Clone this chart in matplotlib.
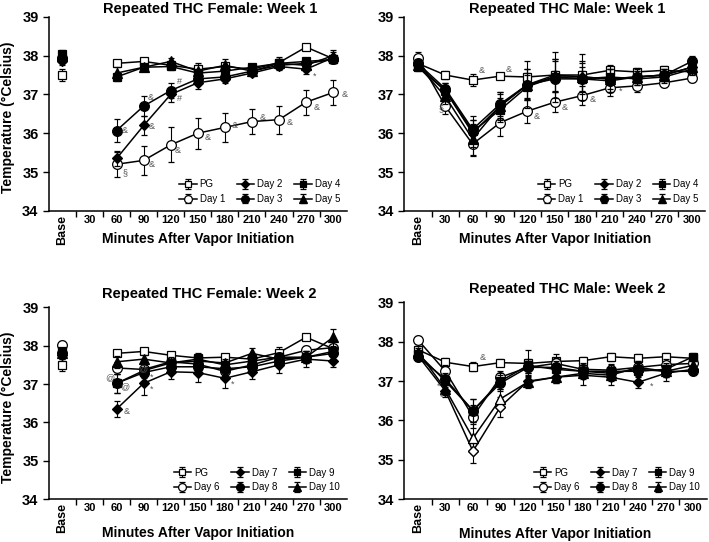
import numpy as np
import matplotlib
matplotlib.use('Agg')
import matplotlib.pyplot as plt

plt.rcParams['font.family'] = ['Liberation Sans', 'DejaVu Sans']

nan = np.nan

# x categories (Base + minutes)
x_labels = ['Base', '30', '60', '90', '120', '150', '180', '210', '240', '270', '300']

week1_names = ['PG', 'Day 1', 'Day 2', 'Day 3', 'Day 4', 'Day 5']
week2_names = ['PG', 'Day 6', 'Day 7', 'Day 8', 'Day 9', 'Day 10']

# female week 1 (no 30 min sample)
fw1_mean = [
    [37.50, nan, 37.80, 37.85, 37.75, 37.65, 37.72, 37.65, 37.82, 38.22, 37.92],
    [37.93, nan, 35.20, 35.30, 35.70, 36.00, 36.15, 36.30, 36.35, 36.80, 37.05],
    [37.85, nan, 35.35, 36.20, 37.00, 37.30, 37.40, 37.55, 37.72, 37.65, 37.95],
    [37.90, nan, 36.07, 36.70, 37.10, 37.40, 37.45, 37.60, 37.75, 37.80, 37.90],
    [38.05, nan, 37.45, 37.70, 37.72, 37.55, 37.60, 37.70, 37.80, 37.85, 37.90],
    [38.00, nan, 37.55, 37.70, 37.85, 37.60, 37.75, 37.60, 37.80, 37.75, 38.00],
]
fw1_err = [
    [0.15, nan, 0.05, 0.05, 0.05, 0.10, 0.08, 0.05, 0.15, 0.05, 0.10],
    [0.10, nan, 0.32, 0.37, 0.45, 0.40, 0.38, 0.32, 0.36, 0.32, 0.33],
    [0.10, nan, 0.20, 0.25, 0.20, 0.15, 0.10, 0.08, 0.08, 0.12, 0.15],
    [0.10, nan, 0.30, 0.25, 0.20, 0.15, 0.10, 0.08, 0.08, 0.10, 0.10],
    [0.10, nan, 0.10, 0.08, 0.08, 0.10, 0.08, 0.05, 0.05, 0.10, 0.10],
    [0.10, nan, 0.15, 0.08, 0.08, 0.20, 0.15, 0.08, 0.10, 0.15, 0.15],
]

# male week 1
mw1_mean = [
    [37.80, 37.50, 37.37, 37.47, 37.45, 37.50, 37.50, 37.62, 37.58, 37.62, 37.58],
    [37.95, 36.70, 35.72, 36.27, 36.57, 36.80, 36.97, 37.17, 37.22, 37.30, 37.42],
    [37.75, 37.10, 36.00, 36.70, 37.25, 37.45, 37.45, 37.40, 37.45, 37.50, 37.70],
    [37.80, 37.15, 36.10, 36.75, 37.25, 37.40, 37.40, 37.35, 37.45, 37.50, 37.85],
    [37.70, 37.10, 36.05, 36.60, 37.20, 37.45, 37.40, 37.45, 37.40, 37.45, 37.65],
    [37.75, 36.95, 35.85, 36.70, 37.25, 37.50, 37.45, 37.40, 37.45, 37.50, 37.70],
]
mw1_err = [
    [0.15, 0.10, 0.15, 0.08, 0.10, 0.10, 0.10, 0.10, 0.10, 0.10, 0.10],
    [0.15, 0.20, 0.30, 0.35, 0.30, 0.25, 0.25, 0.20, 0.15, 0.10, 0.10],
    [0.10, 0.20, 0.35, 0.30, 0.60, 0.65, 0.60, 0.35, 0.20, 0.15, 0.15],
    [0.10, 0.15, 0.35, 0.30, 0.40, 0.50, 0.40, 0.30, 0.15, 0.15, 0.15],
    [0.10, 0.15, 0.30, 0.30, 0.30, 0.40, 0.30, 0.20, 0.15, 0.15, 0.15],
    [0.10, 0.20, 0.40, 0.35, 0.40, 0.40, 0.40, 0.25, 0.15, 0.15, 0.15],
]

# female week 2
fw2_mean = [
    [37.50, nan, 37.80, 37.85, 37.75, 37.68, 37.70, 37.65, 37.82, 38.22, 37.92],
    [38.02, nan, 37.42, 37.38, 37.58, 37.52, 37.33, 37.50, 37.70, 37.88, 37.95],
    [37.75, nan, 36.35, 37.02, 37.32, 37.30, 37.15, 37.32, 37.50, 37.65, 37.60],
    [37.80, nan, 37.02, 37.30, 37.45, 37.45, 37.40, 37.45, 37.60, 37.70, 37.80],
    [37.85, nan, 37.02, 37.35, 37.55, 37.65, 37.50, 37.60, 37.70, 37.70, 37.85],
    [37.80, nan, 37.58, 37.65, 37.55, 37.60, 37.55, 37.80, 37.65, 37.70, 38.22],
]
fw2_err = [
    [0.15, nan, 0.05, 0.05, 0.05, 0.08, 0.05, 0.05, 0.15, 0.05, 0.10],
    [0.10, nan, 0.15, 0.12, 0.10, 0.10, 0.15, 0.10, 0.10, 0.12, 0.10],
    [0.10, nan, 0.20, 0.30, 0.20, 0.25, 0.25, 0.20, 0.20, 0.20, 0.15],
    [0.10, nan, 0.25, 0.15, 0.15, 0.15, 0.15, 0.15, 0.15, 0.15, 0.10],
    [0.10, nan, 0.25, 0.15, 0.10, 0.15, 0.10, 0.10, 0.10, 0.10, 0.10],
    [0.10, nan, 0.15, 0.10, 0.15, 0.15, 0.10, 0.15, 0.10, 0.15, 0.22],
]

# male week 2
mw2_mean = [
    [37.80, 37.48, 37.37, 37.47, 37.45, 37.50, 37.52, 37.62, 37.58, 37.62, 37.58],
    [38.05, 37.25, 36.10, 37.10, 37.35, 37.45, 37.30, 37.28, 37.35, 37.42, 37.45],
    [37.65, 36.75, 35.22, 36.35, 37.00, 37.10, 37.15, 37.10, 36.97, 37.20, 37.30],
    [37.62, 37.05, 36.25, 36.95, 37.35, 37.35, 37.25, 37.20, 37.30, 37.25, 37.25],
    [37.70, 37.00, 36.25, 37.00, 37.40, 37.30, 37.25, 37.25, 37.25, 37.30, 37.62],
    [37.75, 36.80, 35.55, 36.55, 36.98, 37.10, 37.20, 37.15, 37.35, 37.25, 37.40],
]
mw2_err = [
    [0.10, 0.10, 0.12, 0.08, 0.35, 0.20, 0.10, 0.10, 0.10, 0.10, 0.10],
    [0.10, 0.15, 0.30, 0.15, 0.15, 0.15, 0.15, 0.15, 0.15, 0.15, 0.10],
    [0.10, 0.15, 0.30, 0.25, 0.15, 0.15, 0.25, 0.20, 0.15, 0.20, 0.10],
    [0.10, 0.15, 0.30, 0.20, 0.15, 0.15, 0.15, 0.15, 0.15, 0.15, 0.10],
    [0.10, 0.15, 0.30, 0.20, 0.15, 0.15, 0.15, 0.15, 0.15, 0.15, 0.10],
    [0.10, 0.15, 0.35, 0.25, 0.15, 0.15, 0.15, 0.15, 0.15, 0.15, 0.10],
]
# points drawn hollow (series index, x index)
mw2_hollow = [(2, 2), (2, 3), (5, 2), (5, 3)]

# significance notes: (x position, y value, symbol)
fw1_notes = [(2.3, 34.97, '§'), (3.3, 35.2, '&'), (4.27, 35.55, '&'), (5.35, 35.9, '&'),
             (6.36, 36.19, '&'), (7.4, 36.41, '&'), (8.4, 36.28, '&'), (9.4, 36.67, '&'),
             (10.44, 36.99, '&'), (2.3, 36.07, '&'), (3.3, 36.17, '&'), (3.27, 36.93, '&'),
             (4.34, 37.34, '#'), (4.34, 36.9, '#'), (9.3, 37.47, '*')]
mw1_notes = [(2.33, 37.61, '&'), (3.33, 37.64, '&'), (0.85, 36.62, '§'), (4.33, 36.43, '&'),
             (5.37, 36.67, '&'), (6.4, 36.86, '&'), (7.4, 37.09, '*')]
fw2_notes = [(2.38, 36.28, '&'), (3.3, 36.86, '*'), (3.3, 37.18, '*'), (6.27, 36.99, '*'),
             (1.76, 37.17, '@'), (2.29, 36.93, '@'), (2.97, 37.39, '@')]
mw2_notes = [(2.37, 37.59, '&'), (0.76, 36.86, '*'), (0.85, 36.6, '*'), (8.5, 36.86, '*')]

styles = [('s', 'white', 6), ('o', 'white', 7), ('D', 'black', 5),
          ('o', 'black', 7), ('s', 'black', 6), ('^', 'black', 6.5)]

fig = plt.figure(figsize=(7.09, 5.42), dpi=100)

panels = [
    ([0.069, 0.611, 0.420, 0.358], 'Repeated THC Female: Week 1', fw1_mean, fw1_err, week1_names, fw1_notes, [], True, 0),
    ([0.570, 0.611, 0.425, 0.358], 'Repeated THC Male: Week 1', mw1_mean, mw1_err, week1_names, mw1_notes, [], False, 0),
    ([0.069, 0.079, 0.420, 0.354], 'Repeated THC Female: Week 2', fw2_mean, fw2_err, week2_names, fw2_notes, [], True, 1),
    ([0.570, 0.079, 0.427, 0.363], 'Repeated THC Male: Week 2', mw2_mean, mw2_err, week2_names, mw2_notes, mw2_hollow, False, 1),
]

x = np.arange(len(x_labels))

for rect, title, means, errs, names, notes, hollow, is_left, row in panels:
    ax = fig.add_axes(rect)
    for i in range(len(means)):
        m, fc, ms = styles[i]
        y = np.array(means[i])
        e = np.array(errs[i])
        ax.errorbar(x, y, yerr=e, color='black', lw=1.1, elinewidth=0.8, capsize=2,
                    capthick=0.8, marker=m, mfc=fc, mec='black', mew=0.9, ms=ms,
                    label=names[i], zorder=3 + i * 0.1)
    for si, xi in hollow:
        m, fc, ms = styles[si]
        ax.plot(x[xi], means[si][xi], marker=m, mfc='white', mec='black', mew=0.9,
                ms=ms, ls='none', zorder=5)
    for xn, yn, sym in notes:
        ax.text(xn, yn, sym, fontsize=6.5, color='#555555', ha='center', va='center', zorder=6)

    ax.set_xlim(-0.5, 10.5)
    ax.set_ylim(34, 39)
    ax.set_yticks([34, 35, 36, 37, 38, 39])
    ax.set_xticks(x)
    ax.set_xticklabels(x_labels, fontsize=8, fontweight='bold')
    base_lbl = ax.get_xticklabels()[0]
    base_lbl.set_rotation(90)
    base_lbl.set_fontsize(9)
    ax.set_xticks(x[:-1] + 0.5, minor=True)
    ax.tick_params(axis='x', which='major', length=0, pad=3)
    ax.tick_params(axis='x', which='minor', length=4, width=1, direction='out')
    ax.tick_params(axis='y', length=4, width=1, labelsize=10.5, direction='out')
    for lb in ax.get_yticklabels():
        lb.set_fontweight('bold')
    ax.spines['top'].set_visible(False)
    ax.spines['right'].set_visible(False)
    ax.spines['left'].set_linewidth(1.1)
    ax.spines['bottom'].set_linewidth(1.1)

    ax.set_title(title, fontsize=10.5, fontweight='bold', x=0.54, pad=3 if row == 0 else 7)
    ax.set_xlabel('Minutes After Vapor Initiation', fontsize=10, fontweight='bold')
    ax.xaxis.set_label_coords(0.5, -0.11 if row == 0 else -0.14)
    if is_left:
        ax.set_ylabel('Temperature (°Celsius)', fontsize=10, fontweight='bold')
        ax.yaxis.set_label_coords(-0.115, 0.48)

    ax.legend(ncol=3, loc='lower right', bbox_to_anchor=(1.0, 0.0), frameon=False,
              fontsize=7, handlelength=1.8, columnspacing=1.2, handletextpad=0.3,
              labelspacing=0.5, borderaxespad=0.3, markerscale=0.8)

fig.savefig('out.png', dpi=100)
